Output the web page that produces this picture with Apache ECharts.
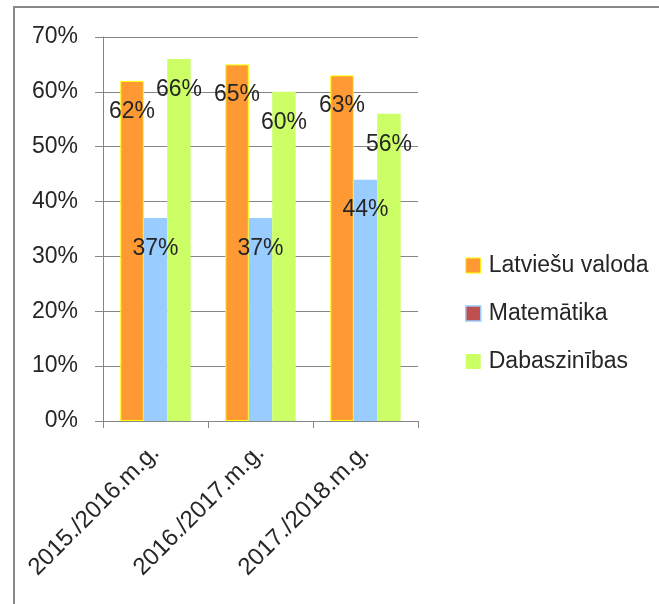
<!DOCTYPE html>
<html>
<head>
<meta charset="utf-8">
<script src="https://cdn.jsdelivr.net/npm/echarts@6/dist/echarts.min.js"></script>
<style>
  html, body { margin: 0; padding: 0; background: #fff; }
  #chart { width: 659px; height: 604px; }
</style>
</head>
<body>
<div id="chart"></div>
<script>
const categories = ['2015./2016.m.g.', '2016./2017.m.g.', '2017./2018.m.g.']
const latvian = [62, 65, 63]
const math = [37, 37, 44]
const science = [66, 60, 56]
const yTicks = [0, 10, 20, 30, 40, 50, 60, 70]

const font = 'Liberation Sans'
const textColor = '#262626'
const gridColor = '#868686'

const chartDom = document.getElementById('chart')
const myChart = echarts.init(chartDom)

const labelOpt = {
  show: true,
  position: 'insideTop',
  distance: 19,
  formatter: '{c}%',
  fontFamily: font,
  fontSize: 23,
  color: textColor
}

const option = {
  backgroundColor: '#fff',
  animation: false,
  graphic: [
    {
      type: 'rect',
      shape: { x: 14, y: 7, width: 760, height: 760 },
      style: { fill: 'none', stroke: '#888888', lineWidth: 2 }
    }
  ],
  legend: {
    orient: 'vertical',
    left: 460,
    top: 249,
    itemWidth: 15,
    itemHeight: 15,
    itemGap: 25,
    textStyle: {
      fontFamily: font,
      fontSize: 23,
      color: textColor,
      padding: [0, 0, 0, 3]
    },
    data: [
      { name: 'Latviešu valoda', icon: 'rect', itemStyle: { color: '#FF9933', borderColor: '#FFFF00', borderWidth: 1 } },
      { name: 'Matemātika', icon: 'rect', itemStyle: { color: '#C0504D', borderColor: '#99CCFF', borderWidth: 1.5 } },
      { name: 'Dabaszinības', icon: 'rect', itemStyle: { color: '#CCFF66', borderWidth: 0 } }
    ]
  },
  grid: {
    left: 103,
    top: 37,
    right: 241,
    bottom: 183,
    containLabel: false
  },
  xAxis: {
    type: 'category',
    data: categories,
    axisLine: { lineStyle: { color: gridColor, width: 1 } },
    axisTick: { show: true, length: 7, lineStyle: { color: gridColor } },
    axisLabel: {
      rotate: 45,
      margin: 28,
      fontFamily: font,
      fontSize: 24,
      color: textColor
    }
  },
  yAxis: {
    type: 'value',
    min: yTicks[0],
    max: yTicks[yTicks.length - 1],
    interval: 10,
    axisLine: { show: true, lineStyle: { color: gridColor, width: 1 } },
    axisTick: { show: true, length: 8, lineStyle: { color: gridColor } },
    splitLine: { show: true, lineStyle: { color: gridColor, width: 1 } },
    axisLabel: {
      formatter: '{value}%',
      margin: 25,
      fontFamily: font,
      fontSize: 23,
      color: textColor
    }
  },
  series: [
    {
      name: 'Latviešu valoda',
      type: 'bar',
      barGap: '0%',
      barCategoryGap: '33%',
      data: latvian,
      itemStyle: { color: '#FF9933', borderColor: '#FFFF00', borderWidth: 1 },
      label: labelOpt
    },
    {
      name: 'Matemātika',
      type: 'bar',
      barGap: '0%',
      barCategoryGap: '33%',
      data: math,
      itemStyle: { color: '#99CCFF' },
      label: labelOpt
    },
    {
      name: 'Dabaszinības',
      type: 'bar',
      barGap: '0%',
      barCategoryGap: '33%',
      data: science,
      itemStyle: { color: '#CCFF66' },
      label: labelOpt
    }
  ]
}
myChart.setOption(option)

window.addEventListener('resize', () => {
  myChart.resize()
})
</script>
</body>
</html>
